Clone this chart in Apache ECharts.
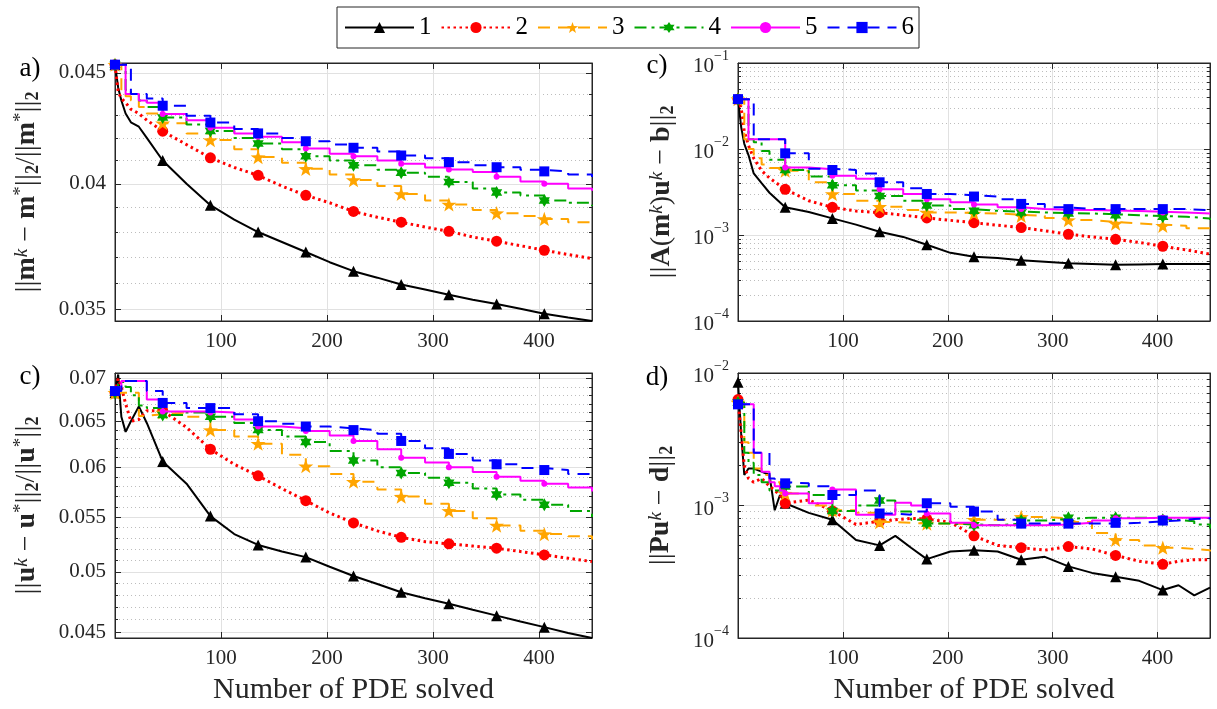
<!DOCTYPE html>
<html><head><meta charset="utf-8">
<script src="https://cdn.jsdelivr.net/npm/echarts@6/dist/echarts.min.js"></script>
<style>html,body{margin:0;padding:0;background:#fff}#c{width:1217px;height:709px}</style>
</head><body><div id="c"></div><script>
// ---------- data ----------
const legendNames = ['1','2','3','4','5','6'];
const markerX = [0,45,90,135,180,225,270,315,360,405];
const xTickLabels = [100,200,300,400];

const xsA = [0,3,6,10,15,22.5,30,45,67.5,90,112.5,135,157.5,180,202.5,225,247.5,270,292.5,315,337.5,360,382.5,405,427.5,450];
const a1 = [0.0454,0.0443,0.0437,0.0431,0.0427,0.0425,0.0420,0.0410,0.0400,0.0391,0.0385,0.0380,0.0376,0.0372,0.0368,0.03645,0.0362,0.03594,0.03575,0.03555,0.03536,0.0352,0.03502,0.03484,0.0347,0.03457];
const a2 = [0.0454,0.0441,0.0438,0.0436,0.0433,0.0431,0.0428,0.0423,0.0417,0.04112,0.0407,0.04036,0.0399,0.03951,0.0392,0.03884,0.0386,0.0384,0.0382,0.03803,0.0378,0.03763,0.03745,0.03727,0.0371,0.03694];
const a3 = [0.0454,0.0454,0.0441,0.0439,0.0437,0.0434,0.0431,0.04266,0.0422,0.0419,0.0415,0.04115,0.0409,0.04064,0.0404,0.04016,0.0399,0.03957,0.0393,0.03913,0.0389,0.03877,0.03865,0.03853,0.0384,0.03829];
const a4 = [0.0454,0.0454,0.0454,0.0442,0.0440,0.0437,0.0434,0.04292,0.0426,0.04231,0.0420,0.04175,0.0415,0.04119,0.0410,0.04079,0.0406,0.04047,0.0403,0.04007,0.0398,0.03963,0.0395,0.0393,0.0392,0.03907];
const a5 = [0.0454,0.0454,0.0454,0.0440,0.0440,0.0437,0.0436,0.04308,0.0428,0.04246,0.0422,0.04205,0.0418,0.04153,0.0413,0.04119,0.0410,0.04086,0.0407,0.04061,0.0405,0.0403,0.0401,0.0400,0.0398,0.0397];
const a6 = [0.0454,0.0454,0.0454,0.0454,0.0440,0.0440,0.0438,0.04346,0.0430,0.04269,0.0424,0.0422,0.0420,0.04185,0.0417,0.04156,0.0414,0.04122,0.0411,0.04093,0.0408,0.04071,0.0406,0.04053,0.0404,0.04029];

const xsB = [0,3,6,10,15,22.5,30,45,67.5,90,112.5,135,157.5,180,202.5,225,247.5,270,292.5,315,337.5,360,382.5,405,427.5,450];
const b1 = [0.0683,0.0705,0.0655,0.0638,0.0650,0.0667,0.0648,0.0606,0.0583,0.0551,0.0534,0.0524,0.0518,0.0513,0.05045,0.04964,0.04895,0.04826,0.04776,0.0473,0.0468,0.04633,0.04586,0.04541,0.04495,0.04456];
const b2 = [0.0683,0.0700,0.0690,0.0670,0.0650,0.0652,0.0662,0.0662,0.0643,0.0619,0.0603,0.0591,0.0578,0.0566,0.0554,0.05445,0.0537,0.0531,0.0527,0.0525,0.0523,0.0521,0.0518,0.0515,0.0512,0.0509];
const b3 = [0.0683,0.0683,0.0683,0.0683,0.0683,0.0656,0.0658,0.0660,0.0655,0.0640,0.0633,0.0625,0.0613,0.0601,0.0593,0.0585,0.0577,0.0570,0.0563,0.0556,0.0549,0.0542,0.0537,0.0534,0.0532,0.0529];
const b4 = [0.0683,0.0696,0.0696,0.0690,0.0680,0.0668,0.0665,0.0657,0.0660,0.0655,0.0648,0.0640,0.0633,0.0627,0.0617,0.0607,0.0600,0.0594,0.0589,0.0584,0.0578,0.0572,0.0567,0.0562,0.0556,0.0550];
const b5 = [0.0683,0.0690,0.0697,0.0697,0.0697,0.0697,0.0675,0.0661,0.0661,0.0660,0.0652,0.0644,0.0642,0.0639,0.0634,0.0628,0.0619,0.0610,0.0605,0.0600,0.0595,0.0590,0.0586,0.0583,0.0579,0.0575];
const b6 = [0.0685,0.0685,0.0697,0.0697,0.0697,0.0697,0.0685,0.0671,0.0665,0.0665,0.0658,0.0650,0.0647,0.0644,0.0642,0.0640,0.0636,0.0628,0.0620,0.0614,0.0607,0.0603,0.0599,0.0597,0.0593,0.0590];

const xsC = [0,3,6,10,15,22.5,30,45,67.5,90,112.5,135,157.5,180,202.5,225,247.5,270,292.5,315,337.5,360,382.5,405,427.5,450];
const c1 = [0.039,0.018,0.0115,0.0085,0.0052,0.0040,0.0031,0.0021,0.00185,0.00156,0.00132,0.00109,0.00095,0.00077,0.00062,0.00056,0.00054,0.00051,0.00049,0.00047,0.00046,0.00045,0.000455,0.00046,0.00046,0.00046];
const c2 = [0.038,0.030,0.016,0.011,0.0078,0.0056,0.0046,0.0034,0.0025,0.0021,0.0019,0.00182,0.0017,0.00158,0.00148,0.00139,0.0013,0.00122,0.00112,0.00102,0.00095,0.00089,0.00082,0.00074,0.00067,0.0006];
const c3 = [0.038,0.038,0.013,0.010,0.0078,0.0066,0.0060,0.0056,0.0041,0.0030,0.0025,0.00213,0.00195,0.00183,0.0018,0.00178,0.00172,0.00167,0.00158,0.00149,0.00142,0.00136,0.00132,0.00128,0.0012,0.00114];
const c4 = [0.038,0.038,0.038,0.013,0.012,0.0095,0.0075,0.0057,0.0048,0.0038,0.0033,0.00284,0.0025,0.00221,0.002,0.00191,0.00187,0.00183,0.0018,0.00178,0.00174,0.0017,0.00166,0.00163,0.00156,0.00149];
const c5 = [0.038,0.038,0.038,0.013,0.013,0.013,0.013,0.0061,0.0058,0.0049,0.0045,0.0034,0.0030,0.0026,0.0024,0.00227,0.0021,0.0020,0.00197,0.00195,0.00193,0.0019,0.00186,0.00183,0.00178,0.00175];
const c6 = [0.038,0.038,0.038,0.038,0.013,0.013,0.013,0.0089,0.0059,0.0057,0.0052,0.0041,0.0035,0.0030,0.0029,0.0028,0.0026,0.0023,0.0021,0.0020,0.0020,0.0020,0.0020,0.0020,0.00195,0.0019];

const xsD = [0,3,6,10,15,22.5,30,35,40,45,67.5,90,112.5,135,150,165,180,202.5,225,247.5,270,292.5,315,337.5,360,382.5,405,420,435,450];
const d1 = [0.0085,0.0035,0.0017,0.0019,0.0019,0.0018,0.0017,0.00092,0.0012,0.00104,0.00088,0.00078,0.00055,0.0005,0.00059,0.00048,0.000394,0.00045,0.00046,0.00045,0.00039,0.00041,0.000347,0.00031,0.00029,0.00027,0.00023,0.00025,0.00021,0.00024];
const d2 = [0.0063,0.0035,0.0020,0.0016,0.0015,0.0016,0.0014,0.0013,0.0012,0.00104,0.0011,0.00091,0.00072,0.00076,0.00078,0.0008,0.00079,0.00075,0.00059,0.0005,0.00048,0.00046,0.00049,0.00047,0.00042,0.00038,0.00036,0.00038,0.00039,0.00039];
const d3 = [0.006,0.0055,0.003,0.0025,0.0019,0.0017,0.0015,0.0015,0.0014,0.00123,0.0010,0.00092,0.00088,0.00075,0.00074,0.00073,0.00073,0.00072,0.00078,0.00078,0.00082,0.0008,0.00075,0.00062,0.00055,0.0005,0.00048,0.00047,0.00046,0.00045];
const d4 = [0.006,0.006,0.0025,0.0021,0.0017,0.0015,0.0013,0.0013,0.0013,0.00139,0.0012,0.00091,0.001,0.00109,0.0009,0.00078,0.00073,0.00072,0.00071,0.00073,0.00077,0.00079,0.00081,0.00081,0.00081,0.0008,0.00078,0.00076,0.00072,0.00067];
const d5 = [0.0058,0.0058,0.0058,0.0058,0.0025,0.0018,0.0015,0.0014,0.0013,0.00123,0.00104,0.00132,0.00085,0.00085,0.00105,0.001,0.00087,0.00074,0.00071,0.00071,0.00071,0.00072,0.00074,0.00077,0.0008,0.00081,0.00081,0.00081,0.00081,0.00081];
const d6 = [0.0058,0.0058,0.0058,0.0058,0.0025,0.0025,0.0016,0.0015,0.0015,0.00147,0.0014,0.0012,0.0013,0.00087,0.00085,0.0009,0.00104,0.00098,0.0009,0.00078,0.00073,0.00073,0.00073,0.00073,0.00074,0.00076,0.00077,0.00079,0.0008,0.00081];

// tick values
const yTicksA = [0.035,0.04,0.045];
const yMinorA = [0.036,0.037,0.038,0.039,0.041,0.042,0.043,0.044];
const yTicksB = [0.045,0.05,0.055,0.06,0.065,0.07];
const yMinorB = [0.046,0.047,0.048,0.049,0.051,0.052,0.053,0.054,0.056,0.057,0.058,0.059,0.061,0.062,0.063,0.064,0.066,0.067,0.068,0.069];
const yTicksC = [1e-4,1e-3,1e-2,1e-1];
const yMinorC = [2e-4,3e-4,4e-4,5e-4,6e-4,7e-4,8e-4,9e-4,2e-3,3e-3,4e-3,5e-3,6e-3,7e-3,8e-3,9e-3,2e-2,3e-2,4e-2,5e-2,6e-2,7e-2,8e-2,9e-2];
const yTicksD = [1e-4,1e-3,1e-2];
const yMinorD = [2e-4,3e-4,4e-4,5e-4,6e-4,7e-4,8e-4,9e-4,2e-3,3e-3,4e-3,5e-3,6e-3,7e-3,8e-3,9e-3];

// ---------- styles ----------
const SERIF = '"Liberation Serif","DejaVu Serif",serif';
const TXT = '#262626';
const STAR = 'path://M0,-10L2.35,-3.24L9.51,-3.09L3.8,1.24L5.88,8.09L0,4L-5.88,8.09L-3.8,1.24L-9.51,-3.09L-2.35,-3.24Z';
const HEX = 'path://M0,-10L2.887,-5L8.66,-5L5.77,0L8.66,5L2.887,5L0,10L-2.887,5L-8.66,5L-5.77,0L-8.66,-5L-2.887,-5Z';
const sty = [
  {color:'#000000', type:'solid',     width:2,   symbol:'triangle', size:11},
  {color:'#ff0000', type:[2.5,3.5],   width:3,   symbol:'circle',   size:11},
  {color:'#ffa500', type:[12,8],      width:2,   symbol:STAR,       size:15},
  {color:'#00a600', type:[12,5,3,5],  width:2,   symbol:HEX,        size:13},
  {color:'#ff00ff', type:'solid',     width:2,   symbol:'circle',   size:6},
  {color:'#0000ff', type:[12,8],      width:2,   symbol:'rect',     size:10}
];

function pairs(xs, ys){ return ys.map((y,i)=>[xs[i], y]); }

const panels = [
  {xs:xsA, ys:[a1,a2,a3,a4,a5,a6], grid:0},
  {xs:xsC, ys:[c1,c2,c3,c4,c5,c6], grid:1},
  {xs:xsB, ys:[b1,b2,b3,b4,b5,b6], grid:2},
  {xs:xsD, ys:[d1,d2,d3,d4,d5,d6], grid:3}
];

const grids = [
  {left:115, top:63, width:477, height:258},
  {left:738, top:63, width:472, height:258},
  {left:115, top:373, width:477, height:265},
  {left:738, top:373, width:472, height:265}
].map(g => Object.assign(g, {show:true, borderColor:TXT, borderWidth:1, backgroundColor:'#fff'}));

const xAxes = [];
for (let g=0; g<4; g++){
  const bottomRow = g>=2;
  xAxes.push({
    gridIndex:g, type:'value', min:0, max:450, interval:100, position:'bottom',
    name: bottomRow ? 'Number of PDE solved' : '', nameLocation:'middle', nameGap:37,
    nameTextStyle:{fontFamily:SERIF, fontSize:30, color:TXT},
    axisLine:{show:true, lineStyle:{color:TXT}},
    axisTick:{show:true, inside:true, length:6, lineStyle:{color:TXT}},
    axisLabel:{fontFamily:SERIF, fontSize:21, color:TXT, margin:10,
      formatter: v => xTickLabels.indexOf(v) >= 0 ? String(v) : ''},
    splitLine:{show:true, showMinLine:false, showMaxLine:false, lineStyle:{color:'#e1e1e1', width:1}}
  });
  xAxes.push({
    gridIndex:g, type:'value', min:0, max:450, interval:100, position:'top',
    axisLine:{show:true, lineStyle:{color:TXT}},
    axisTick:{show:true, inside:true, length:6, lineStyle:{color:TXT}},
    axisLabel:{show:false}, splitLine:{show:false}
  });
}

const nameRich = {
  n:{fontFamily:SERIF, fontSize:28, color:TXT, lineHeight:30},
  v:{fontFamily:'"Liberation Serif",serif', fontSize:30, color:TXT, lineHeight:30},
  b:{fontFamily:SERIF, fontSize:28, fontWeight:'bold', color:TXT, lineHeight:30},
  k:{fontFamily:SERIF, fontSize:19, fontStyle:'italic', color:TXT, lineHeight:15, verticalAlign:'top'},
  p:{fontFamily:SERIF, fontSize:19, color:TXT, lineHeight:15, verticalAlign:'top'},
  s:{fontFamily:SERIF, fontSize:18, fontWeight:'bold', color:TXT, lineHeight:17, verticalAlign:'bottom'}
};
const logRich = {
  t:{fontFamily:SERIF, fontSize:21, color:TXT, lineHeight:28, verticalAlign:'bottom'},
  e:{fontFamily:SERIF, fontSize:14, color:TXT, lineHeight:14, verticalAlign:'top'}
};
const linFmt = v => String(+(+v).toPrecision(3));
const logFmt = v => '{t|10}{e|\u2212' + Math.round(-Math.log10(v)) + '}';

const yDefs = [
  {min:0.03457, max:0.04548, major:yTicksA, minor:yMinorA, fmt:linFmt, rich:null, nameGap:73,
   name:'{v|||}{b|m}{k|k}{n| \u2212 }{b|m}{p|*}{v|||}{s|2}{n|/}{v|||}{b|m}{p|*}{v|||}{s|2}'},
  {min:1e-4, max:1e-1, major:yTicksC, minor:yMinorC, fmt:logFmt, rich:logRich, nameGap:61,
   name:'{v|||}{b|A}{n|(}{b|m}{k|k}{n|)}{b|u}{k|k}{n| \u2212 }{b|b}{v|||}{s|2}'},
  {min:0.04456, max:0.07069, major:yTicksB, minor:yMinorB, fmt:linFmt, rich:null, nameGap:73,
   name:'{v|||}{b|u}{k|k}{n| \u2212 }{b|u}{p|*}{v|||}{s|2}{n|/}{v|||}{b|u}{p|*}{v|||}{s|2}'},
  {min:1e-4, max:1e-2, major:yTicksD, minor:yMinorD, fmt:logFmt, rich:logRich, nameGap:62,
   name:'{v|||}{b|Pu}{k|k}{n| \u2212 }{b|d}{v|||}{s|2}'}
];

const yAxes = [];
yDefs.forEach((d,g) => {
  const common = {gridIndex:g, type:'log', logBase:10, min:d.min, max:d.max};
  yAxes.push(Object.assign({}, common, {
    position:'left', name:d.name, nameLocation:'middle', nameRotate:90, nameGap:d.nameGap,
    nameTextStyle:{rich:nameRich, fontFamily:SERIF, fontSize:28, color:TXT},
    axisLine:{show:true, lineStyle:{color:TXT}},
    axisTick:{show:true, inside:true, length:6, customValues:d.major, lineStyle:{color:TXT}},
    axisLabel:{show:true, customValues:d.major, formatter:d.fmt, fontFamily:SERIF, fontSize:21, color:TXT, margin:9, rich:d.rich || undefined},
    splitLine:{show:true, lineStyle:{color:'#e1e1e1', width:1}}
  }));
  yAxes.push(Object.assign({}, common, {
    position:'left', axisLine:{show:false},
    axisTick:{show:true, inside:true, length:3, customValues:d.minor, lineStyle:{color:TXT}},
    axisLabel:{show:false},
    splitLine:{show:true, lineStyle:{color:'#bdbdbd', width:1, type:[1,3]}}
  }));
  yAxes.push(Object.assign({}, common, {
    position:'right', axisLine:{show:true, lineStyle:{color:TXT}},
    axisTick:{show:true, inside:true, length:6, customValues:d.major, lineStyle:{color:TXT}},
    axisLabel:{show:false}, splitLine:{show:false}
  }));
  yAxes.push(Object.assign({}, common, {
    position:'right', axisLine:{show:false},
    axisTick:{show:true, inside:true, length:3, customValues:d.minor, lineStyle:{color:TXT}},
    axisLabel:{show:false}, splitLine:{show:false}
  }));
});

const series = [];
panels.forEach(p => {
  p.ys.forEach((ys, k) => {
    const s = sty[k];
    series.push({
      type:'line', name:legendNames[k], xAxisIndex:p.grid*2, yAxisIndex:p.grid*4,
      data:pairs(p.xs, ys), step: k>=2 ? 'end' : false, smooth:false,
      symbol:s.symbol, symbolKeepAspect:true,
      symbolSize: v => markerX.indexOf(v[0]) >= 0 ? s.size : 0,
      showSymbol:true, clip:true,
      lineStyle:{color:s.color, width:s.width, type:s.type},
      itemStyle:{color:s.color, borderWidth:0},
      emphasis:{disabled:true}, z:2+k
    });
  });
});

const labels = [['a)',30,69],['c)',657,66],['c)',30,377],['d)',657,378]];
const graphic = labels.map(l => ({type:'text', x:l[1], y:l[2], z:100,
  style:{text:l[0], fontFamily:SERIF, fontSize:27, fill:'#000', align:'center', verticalAlign:'middle'}}));

const chart = echarts.init(document.getElementById('c'), null, {renderer:'canvas'});
chart.setOption({
  animation:false,
  backgroundColor:'#fff',
  legend:{data:legendNames, left:337, top:7, itemWidth:69, itemHeight:14, itemGap:9,
    padding:[7,5,7,7], borderColor:TXT, borderWidth:1, backgroundColor:'#fff',
    textStyle:{fontFamily:SERIF, fontSize:25, lineHeight:27, color:'#000'}},
  grid:grids, xAxis:xAxes, yAxis:yAxes, series:series, graphic:graphic
});
</script></body></html>
